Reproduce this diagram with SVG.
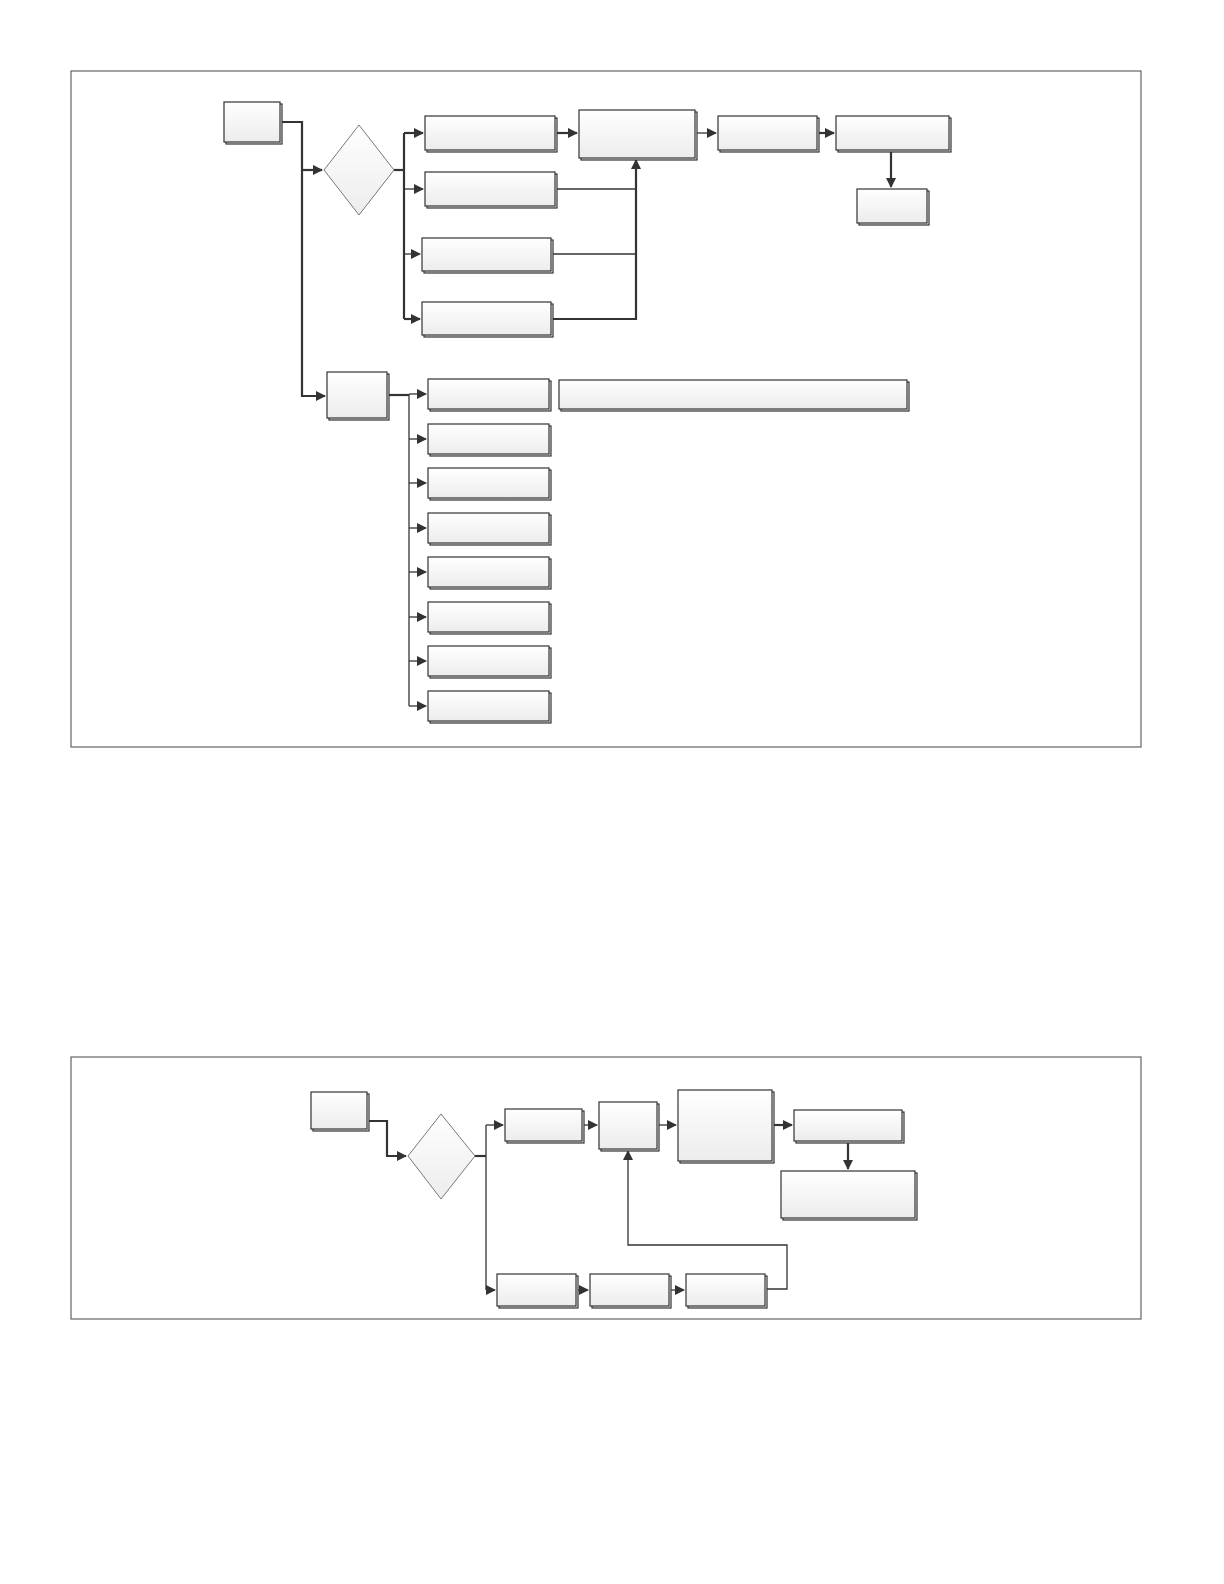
<svg xmlns="http://www.w3.org/2000/svg" width="1224" height="1584" viewBox="0 0 1224 1584">
<defs>
<linearGradient id="g" x1="0" y1="0" x2="0" y2="1"><stop offset="0" stop-color="#ffffff"/><stop offset="1" stop-color="#ececec"/></linearGradient>
<marker id="ar" markerWidth="10" markerHeight="10" refX="9" refY="5" orient="auto" markerUnits="userSpaceOnUse"><path d="M0,0 L10,5 L0,10 Z" fill="#333"/></marker>
</defs>
<style>
.n rect,.n polygon{fill:url(#g);stroke:#333;stroke-width:1.2}
.n polygon{stroke:#777;stroke-width:1}
.sh{fill:#ddd;stroke:none}
.frame{fill:none;stroke:#444;stroke-width:1}
.c path{fill:none;stroke:#333;stroke-width:1.3}
.c .t{stroke-width:2.2}
.c .a{marker-end:url(#ar)}
</style>
<rect width="1224" height="1584" fill="#fff"/>
<rect class="frame" x="71" y="71" width="1070" height="676"/>
<rect class="frame" x="71" y="1057" width="1070" height="262"/>
<g class="c" id="connectors">
<path class="t" d="M280,122 H302 V396 H325" marker-end="url(#ar)"/>
<path class="t a" d="M302,170 H322"/>
<path class="t" d="M394,170 H404"/>
<path class="t" d="M404,133 V319"/>
<path class="t a" d="M404,133 H423"/>
<path class="a" d="M404,189 H423"/>
<path class="a" d="M404,254 H420"/>
<path class="t a" d="M404,319 H420"/>
<path d="M555,189 H636"/>
<path d="M551,254 H636"/>
<path class="t a" d="M551,319 H636 V160"/>
<path class="t a" d="M555,133 H577"/>
<path class="a" d="M695,133 H716"/>
<path class="t a" d="M817,133 H834"/>
<path class="t a" d="M891,150 V187"/>
<path class="t" d="M387,395 H409"/>
<path d="M409,394 V706"/>
<path class="a" d="M409,394 H426"/><path class="a" d="M409,439 H426"/><path class="a" d="M409,483 H426"/><path class="a" d="M409,528 H426"/><path class="a" d="M409,572 H426"/><path class="a" d="M409,617 H426"/><path class="a" d="M409,661 H426"/><path class="a" d="M409,706 H426"/>
<path class="t" d="M367,1121 H387 V1156 H406" marker-end="url(#ar)"/>
<path class="t" d="M475,1156 H486"/>
<path d="M486,1125 V1290"/>
<path class="a" d="M486,1125 H503"/>
<path class="a" d="M486,1290 H495"/>
<path class="a" d="M582,1125 H597"/>
<path class="a" d="M657,1125 H676"/>
<path class="t a" d="M772,1125 H792"/>
<path class="t a" d="M848,1141 V1169"/>
<path class="a" d="M576,1290 H588"/>
<path class="a" d="M669,1290 H684"/>
<path d="M765,1289 H787 V1245 H628 V1151" class="a"/>
</g>
<g class="n" id="n1"><rect class="sh" x="226" y="104" width="56" height="40"/><rect x="224" y="102" width="56" height="40"/></g>
<g class="n" id="n2"><polygon points="359,125 394,170 359,215 324,170"/></g>
<g class="n" id="n3"><rect class="sh" x="427" y="118" width="130" height="34"/><rect x="425" y="116" width="130" height="34"/></g>
<g class="n" id="n4"><rect class="sh" x="427" y="174" width="130" height="34"/><rect x="425" y="172" width="130" height="34"/></g>
<g class="n" id="n5"><rect class="sh" x="424" y="240" width="129" height="33"/><rect x="422" y="238" width="129" height="33"/></g>
<g class="n" id="n6"><rect class="sh" x="424" y="304" width="129" height="33"/><rect x="422" y="302" width="129" height="33"/></g>
<g class="n" id="n7"><rect class="sh" x="581" y="112" width="116" height="48"/><rect x="579" y="110" width="116" height="48"/></g>
<g class="n" id="n8"><rect class="sh" x="720" y="118" width="99" height="34"/><rect x="718" y="116" width="99" height="34"/></g>
<g class="n" id="n9"><rect class="sh" x="838" y="118" width="113" height="34"/><rect x="836" y="116" width="113" height="34"/></g>
<g class="n" id="n10"><rect class="sh" x="859" y="191" width="70" height="34"/><rect x="857" y="189" width="70" height="34"/></g>
<g class="n" id="n11"><rect class="sh" x="329" y="374" width="60" height="46"/><rect x="327" y="372" width="60" height="46"/></g>
<g class="n" id="n12"><rect class="sh" x="561" y="382" width="348" height="29"/><rect x="559" y="380" width="348" height="29"/></g>
<g class="n" id="n13"><rect class="sh" x="430" y="381" width="121" height="30"/><rect x="428" y="379" width="121" height="30"/></g>
<g class="n" id="n14"><rect class="sh" x="430" y="426" width="121" height="30"/><rect x="428" y="424" width="121" height="30"/></g>
<g class="n" id="n15"><rect class="sh" x="430" y="470" width="121" height="30"/><rect x="428" y="468" width="121" height="30"/></g>
<g class="n" id="n16"><rect class="sh" x="430" y="515" width="121" height="30"/><rect x="428" y="513" width="121" height="30"/></g>
<g class="n" id="n17"><rect class="sh" x="430" y="559" width="121" height="30"/><rect x="428" y="557" width="121" height="30"/></g>
<g class="n" id="n18"><rect class="sh" x="430" y="604" width="121" height="30"/><rect x="428" y="602" width="121" height="30"/></g>
<g class="n" id="n19"><rect class="sh" x="430" y="648" width="121" height="30"/><rect x="428" y="646" width="121" height="30"/></g>
<g class="n" id="n20"><rect class="sh" x="430" y="693" width="121" height="30"/><rect x="428" y="691" width="121" height="30"/></g>
<g class="n" id="m1"><rect class="sh" x="313" y="1094" width="56" height="37"/><rect x="311" y="1092" width="56" height="37"/></g>
<g class="n" id="m2"><polygon points="441,1114 475,1156 441,1199 408,1156"/></g>
<g class="n" id="m3"><rect class="sh" x="507" y="1111" width="77" height="32"/><rect x="505" y="1109" width="77" height="32"/></g>
<g class="n" id="m4"><rect class="sh" x="601" y="1104" width="58" height="47"/><rect x="599" y="1102" width="58" height="47"/></g>
<g class="n" id="m5"><rect class="sh" x="680" y="1092" width="94" height="71"/><rect x="678" y="1090" width="94" height="71"/></g>
<g class="n" id="m6"><rect class="sh" x="796" y="1112" width="108" height="31"/><rect x="794" y="1110" width="108" height="31"/></g>
<g class="n" id="m7"><rect class="sh" x="783" y="1173" width="134" height="47"/><rect x="781" y="1171" width="134" height="47"/></g>
<g class="n" id="m8"><rect class="sh" x="499" y="1276" width="79" height="32"/><rect x="497" y="1274" width="79" height="32"/></g>
<g class="n" id="m9"><rect class="sh" x="592" y="1276" width="79" height="32"/><rect x="590" y="1274" width="79" height="32"/></g>
<g class="n" id="m10"><rect class="sh" x="688" y="1276" width="79" height="32"/><rect x="686" y="1274" width="79" height="32"/></g>
</svg>
